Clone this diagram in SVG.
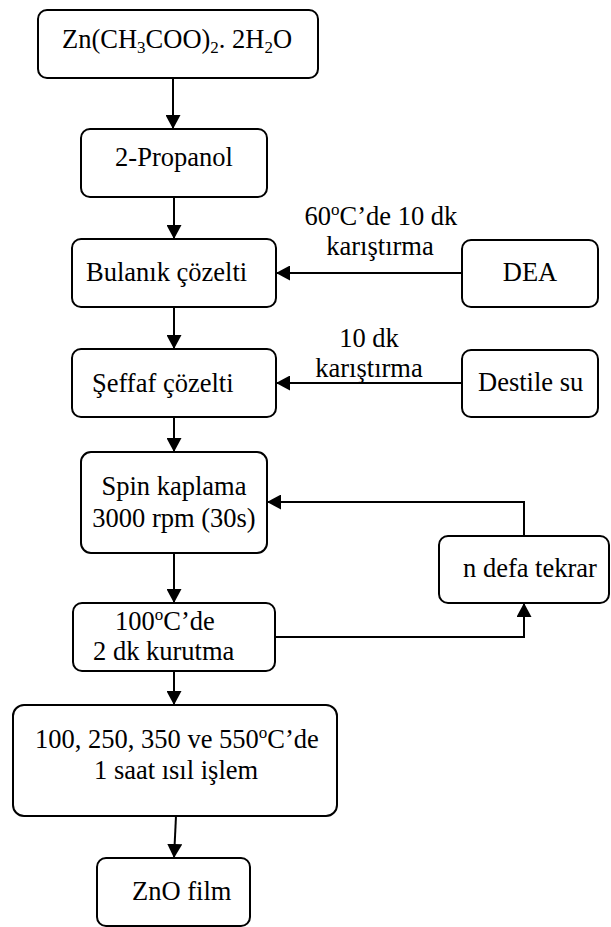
<svg xmlns="http://www.w3.org/2000/svg" width="611" height="927" viewBox="0 0 611 927">
<style>
.box{fill:#fff;stroke:#000;stroke-width:2}
.m{text-anchor:middle}
.c{fill:none;stroke:#000;stroke-width:2}
</style>
<defs>
<marker id="ah" markerUnits="userSpaceOnUse" markerWidth="15" markerHeight="15" refX="14" refY="7.5" orient="auto">
<path d="M0,0 L14,7.5 L0,15 Z" fill="#000"/>
</marker>
</defs>
<rect width="611" height="927" fill="#fff"/>
<g font-family="Liberation Serif, DejaVu Serif, serif" font-size="26.5" fill="#000">
<g id="connectors">
<line class="c" x1="173" y1="78" x2="173" y2="129" marker-end="url(#ah)"/>
<line class="c" x1="174" y1="197" x2="174" y2="239" marker-end="url(#ah)"/>
<line class="c" x1="174" y1="307" x2="174" y2="349" marker-end="url(#ah)"/>
<line class="c" x1="174" y1="417" x2="174" y2="452" marker-end="url(#ah)"/>
<line class="c" x1="174" y1="553" x2="174" y2="603" marker-end="url(#ah)"/>
<line class="c" x1="174" y1="671" x2="174" y2="705" marker-end="url(#ah)"/>
<line class="c" x1="176" y1="816" x2="174" y2="858" marker-end="url(#ah)"/>
<line class="c" x1="462" y1="273" x2="276" y2="273" marker-end="url(#ah)"/>
<line class="c" x1="462" y1="383" x2="276" y2="383" marker-end="url(#ah)"/>
<polyline class="c" points="524,536 524,502 267,502" marker-end="url(#ah)"/>
<polyline class="c" points="275,637 524,637 524,603" marker-end="url(#ah)"/>
<text class="m" x="381" y="225">60<tspan font-size="17" dy="-10">o</tspan><tspan dy="10">C’de 10 dk</tspan></text>
<text class="m" x="380" y="255">karıştırma</text>
<text class="m" x="369" y="347">10 dk</text>
<text class="m" x="369" y="377">karıştırma</text>
</g>
<g id="n1">
<rect class="box" x="38" y="10" width="280" height="68" rx="9"/>
<text x="62" y="48">Zn(CH<tspan font-size="17" dy="5">3</tspan><tspan dy="-5">COO)</tspan><tspan font-size="17" dy="5">2</tspan><tspan dy="-5">. 2H</tspan><tspan font-size="17" dy="5">2</tspan><tspan dy="-5">O</tspan></text>
</g>
<g id="n2">
<rect class="box" x="81" y="129" width="186" height="68" rx="9"/>
<text class="m" x="174" y="166">2-Propanol</text>
</g>
<g id="n3">
<rect class="box" x="72" y="239" width="204" height="68" rx="9"/>
<text x="86" y="281">Bulanık çözelti</text>
</g>
<g id="n4">
<rect class="box" x="462" y="240" width="136" height="67" rx="9"/>
<text class="m" x="530" y="281">DEA</text>
</g>
<g id="n5">
<rect class="box" x="72" y="349" width="204" height="68" rx="9"/>
<text x="92" y="392">Şeffaf çözelti</text>
</g>
<g id="n6">
<rect class="box" x="462" y="350" width="136" height="67" rx="9"/>
<text x="478" y="391">Destile su</text>
</g>
<g id="n7">
<rect class="box" x="81" y="452" width="186" height="101" rx="10"/>
<text class="m" x="174" y="495">Spin kaplama</text>
<text class="m" x="174" y="527">3000 rpm (30s)</text>
</g>
<g id="n8">
<rect class="box" x="439" y="536" width="170" height="67" rx="9"/>
<text x="463" y="577">n defa tekrar</text>
</g>
<g id="n9">
<rect class="box" x="73" y="603" width="202" height="68" rx="9"/>
<text x="115" y="630">100<tspan font-size="17" dy="-10">o</tspan><tspan dy="10">C’de</tspan></text>
<text x="93" y="660">2 dk kurutma</text>
</g>
<g id="n10">
<rect class="box" x="13" y="705" width="324" height="111" rx="11"/>
<text x="35" y="748">100, 250, 350 ve 550<tspan font-size="17" dy="-10">o</tspan><tspan dy="10">C’de</tspan></text>
<text x="94" y="779">1 saat ısıl işlem</text>
</g>
<g id="n11">
<rect class="box" x="97" y="858" width="153" height="68" rx="9"/>
<text x="132" y="900">ZnO film</text>
</g>
</g>
</svg>
